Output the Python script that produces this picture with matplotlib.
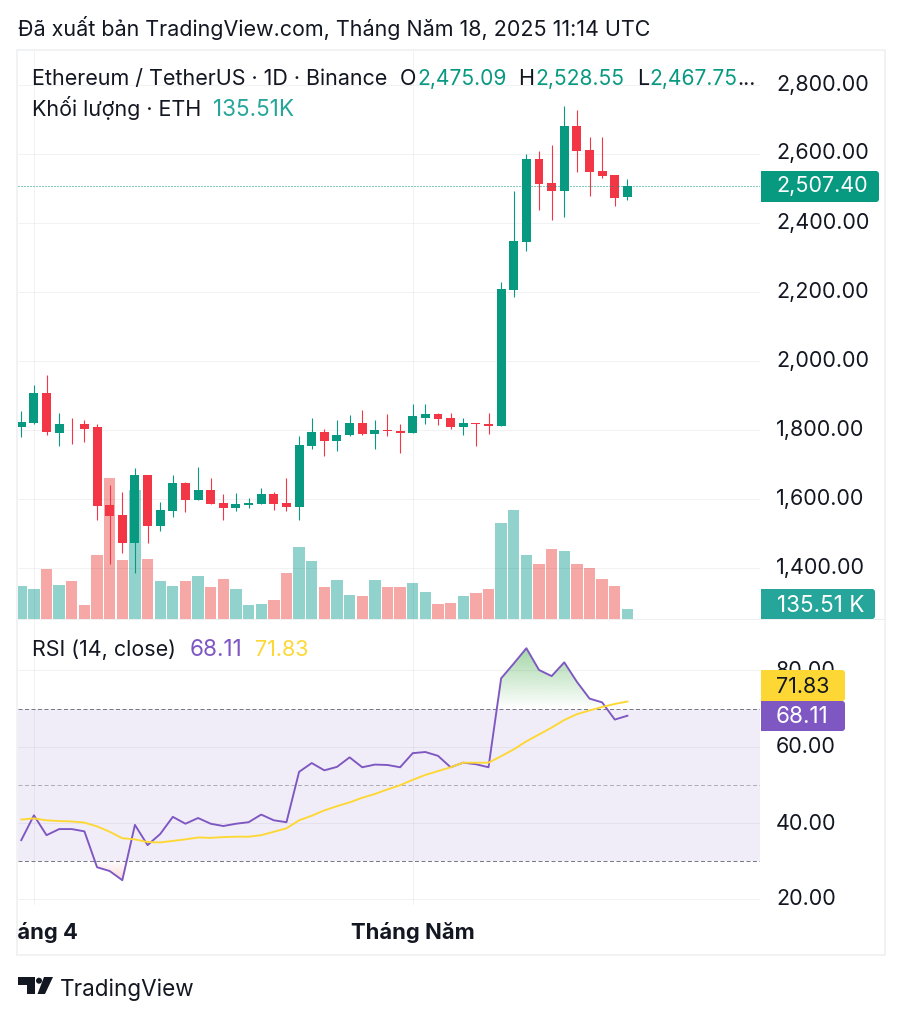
"""ETH/USDT daily chart with volume and RSI, TradingView snapshot style."""

import matplotlib

matplotlib.use("Agg")

import matplotlib.pyplot as plt
import numpy as np
from matplotlib.patches import Circle, FancyBboxPatch, Polygon, Rectangle
from matplotlib.transforms import ScaledTranslation

plt.rcParams["font.family"] = ["Inter", "Noto Sans", "DejaVu Sans"]

opens = [1807, 1821, 1906, 1792, 1818, 1818, 1807, 1583, 1554, 1472, 1670, 1522, 1565, 1647, 1597, 1626, 1589,
         1574, 1583, 1586, 1615, 1589, 1577, 1754, 1795, 1769, 1784, 1821, 1789, 1801, 1798, 1792, 1836, 1845,
         1836, 1807, 1821, 1818, 1810, 2205, 2345, 2586, 2517, 2493, 2682, 2612, 2551, 2540, 2475.09]
highs = [1856, 1929, 1958, 1848, 1836, 1830, 1818, 1641, 1621, 1690, 1670, 1591, 1670, 1650, 1693, 1661, 1615,
         1618, 1603, 1632, 1621, 1661, 1781, 1836, 1804, 1830, 1842, 1859, 1830, 1845, 1818, 1874, 1874, 1850,
         1850, 1836, 1821, 1850, 2229, 2493, 2601, 2610, 2627, 2740, 2729, 2650, 2650, 2540, 2528.55]
lows = [1778, 1818, 1784, 1752, 1760, 1766, 1539, 1411, 1443, 1385, 1472, 1507, 1548, 1562, 1597, 1586, 1539,
        1565, 1574, 1586, 1568, 1565, 1539, 1746, 1725, 1740, 1781, 1784, 1746, 1781, 1734, 1792, 1816, 1813,
        1804, 1784, 1754, 1789, 1810, 2185, 2319, 2438, 2409, 2418, 2548, 2479, 2531, 2450, 2467.75]
closes = [1824, 1906, 1795, 1818, 1816, 1804, 1580, 1551, 1472, 1670, 1522, 1568, 1647, 1597, 1626, 1586, 1574,
          1586, 1589, 1615, 1586, 1577, 1757, 1795, 1769, 1786, 1821, 1789, 1801, 1798, 1792, 1839, 1845, 1833,
          1807, 1821, 1816, 1810, 2208, 2348, 2586, 2514, 2493, 2682, 2610, 2548, 2537, 2473, 2507.40]
volumes = [447, 407, 678, 461, 515, 190, 867, 1911, 800, 1748, 813, 515, 447, 515, 583, 434, 542, 407, 190, 203,
           257, 623, 976, 786, 434, 528, 325, 312, 528, 434, 434, 488, 366, 203, 217, 312, 352, 407, 1301, 1477,
           867, 745, 949, 921, 745, 691, 542, 447, 135.51]
rsi = [35.5, 42.0, 36.8, 38.4, 38.4, 37.8, 28.4, 27.4, 25.0, 39.5, 34.2, 37.1, 41.6, 39.8, 41.3, 39.8, 39.2, 39.8,
       40.2, 42.2, 40.7, 40.2, 53.4, 55.7, 53.8, 54.7, 57.2, 54.6, 55.3, 55.2, 54.6, 58.3, 58.6, 57.6, 54.6, 55.8,
       55.4, 54.6, 77.9, 81.8, 85.8, 80.1, 78.5, 82.1, 77.0, 72.6, 71.6, 67.1, 68.11]
rsi_ma = [40.9, 41.2, 40.7, 40.5, 40.4, 40.1, 39.1, 37.7, 36.0, 35.7, 35.0, 34.9, 35.3, 35.7, 36.2, 36.1, 36.3, 36.4,
          36.4, 36.8, 37.7, 38.6, 40.7, 41.9, 43.3, 44.4, 45.4, 46.6, 47.6, 48.8, 49.9, 51.3, 52.6, 53.6, 54.6, 55.8,
          55.8, 55.8, 57.5, 59.3, 61.4, 63.2, 65.0, 67.0, 68.5, 69.5, 70.4, 71.2, 71.83]

price_ticks = [1400, 1600, 1800, 2000, 2200, 2400, 2600, 2800]
rsi_ticks = [20, 40, 60, 80]
month_days = [1, 31]
month_names = ["Tháng 4", "Tháng Năm"]

GREEN = "#089981"
RED = "#f23645"
VOL_GREEN = "#26a69a"
VOL_RED = "#ef5350"
PURPLE = "#7e57c2"
YELLOW = "#fdd835"
INK = "#131722"
GRID = "#2a2e39"
DASH = "#787b86"

WIDTH, HEIGHT = 903, 1018
PX = 0.72  # points per pixel at dpi 100


def pane(fig, x0, y0, x1, y1):
    ax = fig.add_axes([x0 / WIDTH, 1 - y1 / HEIGHT, (x1 - x0) / WIDTH, (y1 - y0) / HEIGHT])
    ax.patch.set_visible(False)
    for spine in ax.spines.values():
        spine.set_visible(False)
    ax.set_xlim(-0.26, 58.5)
    ax.set_xticks([])
    ax.set_yticks([])
    return ax


def value_box(ax, x0, y0, x1, y1, color, text, text_color, baseline, size=21.5, text_x=776):
    ax.add_patch(FancyBboxPatch((x0 + 3, y0 + 3), x1 - x0 - 6, y1 - y0 - 6, boxstyle="round,pad=3,rounding_size=3",
                                facecolor=color, edgecolor="none"))
    ax.add_patch(Rectangle((x0, y0), 8, y1 - y0, facecolor=color, edgecolor="none"))
    ax.text(text_x, baseline, text, color=text_color, fontsize=size * PX, va="baseline", ha="left")


fig = plt.figure(figsize=(WIDTH / 100, HEIGHT / 100), dpi=100, facecolor="white")

days = np.arange(len(closes))
opens = np.array(opens)
closes = np.array(closes)
rsi = np.array(rsi)
up = closes >= opens
colors = np.where(up, GREEN, RED)

# volume sits under the candles, same x scale
vol_ax = pane(fig, 18, 50, 760, 619)
vol_ax.set_ylim(0, 7710)
price_ax = pane(fig, 18, 50, 760, 619)
price_ax.set_ylim(1251, 2903)

vol_ax.hlines(price_ticks, 0, 1, transform=price_ax.get_yaxis_transform(), color=GRID, alpha=0.06, lw=1 * PX)
vol_ax.vlines(month_days, 0, 1, transform=vol_ax.get_xaxis_transform(), color=GRID, alpha=0.06, lw=1 * PX)
vol_ax.bar(days, volumes, width=0.9, color=np.where(up, VOL_GREEN, VOL_RED), alpha=0.5, linewidth=0)

price_ax.vlines(days, lows, highs, colors=colors, lw=1.1 * PX)
price_ax.bar(days, closes - opens, bottom=opens, width=0.71, color=colors, linewidth=0)
price_ax.axhline(closes[-1], color=GREEN, lw=1 * PX, linestyle=(0, (1, 2)), zorder=1)

price_ax.yaxis.tick_right()
price_ax.set_yticks(price_ticks, [f"{p:,.2f}" for p in price_ticks])
price_ax.tick_params(axis="y", length=0, pad=16 * PX, labelsize=21.5 * PX, labelcolor=INK)
for tick, label in zip(price_ticks, price_ax.get_yticklabels()):
    shift = 3.5 if tick == 2600 else 2
    label.set_transform(label.get_transform() + ScaledTranslation(0, shift * PX / 72, fig.dpi_scale_trans))

# RSI pane
rsi_ax = pane(fig, 18, 620, 760, 905)
rsi_ax.set_ylim(18.5, 93.2)
rsi_ax.axhspan(30, 70, color=PURPLE, alpha=0.1, lw=0)
rsi_ax.hlines(rsi_ticks, 0, 1, transform=rsi_ax.get_yaxis_transform(), color=GRID, alpha=0.06, lw=1 * PX)
rsi_ax.vlines(month_days, 0, 1, transform=rsi_ax.get_xaxis_transform(), color=GRID, alpha=0.06, lw=1 * PX)
for level, alpha in [(70, 1), (50, 0.55), (30, 1)]:
    rsi_ax.axhline(level, color=DASH, alpha=alpha, lw=1 * PX, linestyle=(0, (4, 2.5)))

# gradient fills outside the 30-70 band
x_range = rsi_ax.get_xlim()
over = rsi_ax.fill_between(days, 70, rsi, where=rsi > 70, interpolate=True, color="none", lw=0)
fade = np.zeros((64, 1, 4))
fade[:, 0, :3] = matplotlib.colors.to_rgb("#66bb6a")
fade[:, 0, 3] = np.linspace(0.6, 0, 64)
image = rsi_ax.imshow(fade, extent=(0, 48, 70, 86), aspect="auto", zorder=1.5)
image.set_clip_path(over.get_paths()[0], transform=rsi_ax.transData)
under = rsi_ax.fill_between(days, 30, rsi, where=rsi < 30, interpolate=True, color="none", lw=0)
fade = np.zeros((64, 1, 4))
fade[:, 0, :3] = matplotlib.colors.to_rgb("#ef5350")
fade[:, 0, 3] = np.linspace(0, 0.22, 64)
image = rsi_ax.imshow(fade, extent=(0, 48, 25, 30), aspect="auto", zorder=1.5)
image.set_clip_path(under.get_paths()[0], transform=rsi_ax.transData)
rsi_ax.set_xlim(x_range)
rsi_ax.set_ylim(18.5, 93.2)

rsi_ax.plot(days, rsi, color=PURPLE, lw=1.9 * PX, zorder=3)
rsi_ax.plot(days, rsi_ma, color=YELLOW, lw=1.9 * PX, zorder=3)
rsi_ax.yaxis.tick_right()
rsi_ax.set_yticks(rsi_ticks, [f"{v:.2f}" for v in rsi_ticks])
rsi_ax.tick_params(axis="y", length=0, pad=16 * PX, labelsize=21.5 * PX, labelcolor=INK)
for tick, label in zip(rsi_ticks, rsi_ax.get_yticklabels()):
    shift = 2.5 if tick == 20 else 1.2
    label.set_transform(label.get_transform() + ScaledTranslation(0, shift * PX / 72, fig.dpi_scale_trans))

# time scale, labels cut off at the pane edge like the original
time_ax = pane(fig, 18, 905, 760, 955)
time_ax.set_ylim(955, 905)
for day, name in zip(month_days, month_names):
    time_ax.text(day, 939.3, name, ha="center", va="baseline", fontsize=22 * PX, fontweight="bold", color=INK,
                 clip_on=True)

# overlay in pixel coordinates for frame, legends, value boxes and logo
over_ax = fig.add_axes([0, 0, 1, 1], zorder=5)
over_ax.set_xlim(0, WIDTH)
over_ax.set_ylim(HEIGHT, 0)
over_ax.axis("off")
over_ax.patch.set_visible(False)

over_ax.add_patch(Rectangle((17.5, 49.5), 867.5, 905.5, fill=False, edgecolor="#f1f2f3", lw=2 * PX))
over_ax.plot([18, 884], [619.3, 619.3], color="#eeeff1", lw=1 * PX)


def legend(x, y, text, color=INK, size=21.5):
    over_ax.text(x, y, text, color=color, fontsize=size * PX, va="baseline", ha="left")


legend(18, 35.7, "Đã xuất bản TradingView.com, Tháng Năm 18, 2025 11:14 UTC")
legend(32, 85, "Ethereum / TetherUS · 1D · Binance")
legend(400, 85, "O")
legend(417, 85, "2,475.09", GREEN, 21)
legend(518, 85, "H")
legend(535, 85, "2,528.55", GREEN, 21)
legend(637, 85, "L")
legend(649, 85, "2,467.75", GREEN, 21)
legend(737, 85, "...")
legend(32, 115.7, "Khối lượng · ETH")
legend(213, 115.7, "135.51K", VOL_GREEN, 22.5)
legend(32, 656, "RSI (14, close)")
legend(190, 656, "68.11", PURPLE, 22.5)
legend(255, 656, "71.83", YELLOW)

value_box(over_ax, 761, 171, 879, 202, GREEN, "2,507.40", "white", 192)
value_box(over_ax, 761, 589, 875, 619, VOL_GREEN, "135.51 K", "white", 612, size=22.5, text_x=777)
value_box(over_ax, 761, 670, 845, 701, YELLOW, "71.83", INK, 693.3)
value_box(over_ax, 761, 701, 845, 731, PURPLE, "68.11", "white", 723.3, size=22.5)

# TradingView logo
over_ax.add_patch(Polygon([(18, 977), (35, 977), (35, 994), (27, 994), (27, 985), (18, 985)], facecolor=INK, lw=0))
over_ax.add_patch(Circle((39, 980.7), 3, facecolor=INK, lw=0))
over_ax.add_patch(Polygon([(44, 977), (53, 977), (45, 994), (37.5, 994)], facecolor=INK, lw=0))
legend(60, 996, "TradingView", size=22.5)

fig.savefig("out.png", dpi=100, facecolor="white")
